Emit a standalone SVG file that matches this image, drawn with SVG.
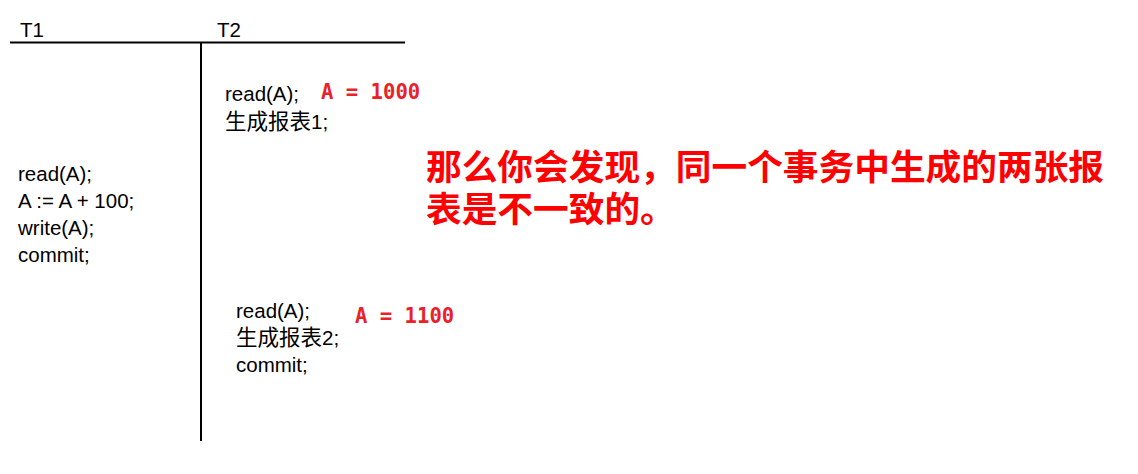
<svg xmlns="http://www.w3.org/2000/svg" width="1138" height="474" viewBox="0 0 1138 474">
<style>
.t{font-family:"Liberation Sans","Noto Sans CJK SC",sans-serif;font-size:20.5px;fill:#000}
.cj{font-size:21.5px}
.v{font-family:"DejaVu Sans Mono",monospace;font-size:20.6px;font-weight:bold;fill:#e8222a}
.big{font-family:"Noto Sans CJK SC",sans-serif;font-size:35.7px;font-weight:bold;fill:#ff0000}
.ln{stroke:#000;stroke-width:2;fill:none}
</style>
<rect width="1138" height="474" fill="#fff"/>
<g id="connectors">
<line class="ln" x1="10" y1="42.5" x2="405" y2="42.5"/>
<line class="ln" x1="201" y1="42.5" x2="201" y2="441"/>
</g>
<g id="headers">
<text class="t" x="20" y="37">T1</text>
<text class="t" x="217" y="37">T2</text>
</g>
<g id="t1-ops">
<text class="t" x="18" y="181">read(A);</text>
<text class="t" x="18" y="208">A := A + 100;</text>
<text class="t" x="18" y="235">write(A);</text>
<text class="t" x="18" y="262">commit;</text>
</g>
<g id="t2-first">
<text class="t" x="225" y="101">read(A);</text>
<text class="t" x="225" y="129"><tspan class="cj">生成报表</tspan>1;</text>
<text class="v" x="321" y="99">A = 1000</text>
</g>
<g id="t2-second">
<text class="t" x="236" y="318">read(A);</text>
<text class="t" x="236" y="345"><tspan class="cj">生成报表</tspan>2;</text>
<text class="t" x="236" y="372">commit;</text>
<text class="v" x="355" y="323">A = 1100</text>
</g>
<g id="note">
<text class="big" x="426" y="180">那么你会发现，同一个事务中生成的两张报<tspan x="426" y="222">表是不一致的。</tspan></text>
</g>
</svg>
